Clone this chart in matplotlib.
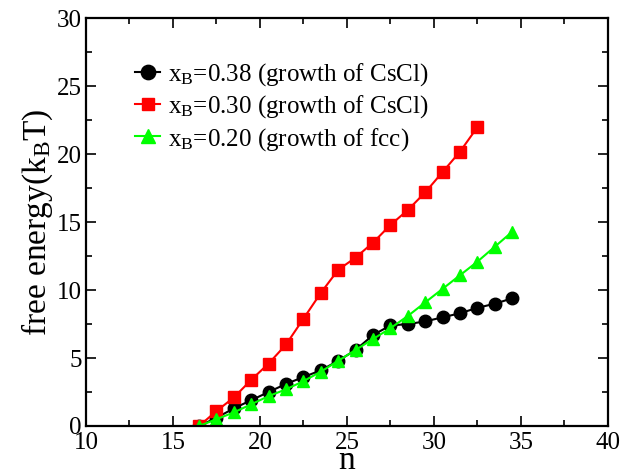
import numpy as np
import matplotlib
matplotlib.use("Agg")
import matplotlib.pyplot as plt
from matplotlib.ticker import MultipleLocator

plt.rcParams['font.family'] = ['Liberation Serif', 'DejaVu Serif']
plt.rcParams['mathtext.fontset'] = 'custom'
plt.rcParams['mathtext.rm'] = 'Liberation Serif'
plt.rcParams['mathtext.it'] = 'Liberation Serif:italic'

# cluster size n and free energy barriers (kT)
n_038 = [16.5, 17.5, 18.5, 19.5, 20.5, 21.5, 22.5, 23.5, 24.5, 25.5,
         26.5, 27.5, 28.5, 29.5, 30.5, 31.5, 32.5, 33.5, 34.5]
g_038 = [0.0, 0.6, 1.3, 1.9, 2.5, 3.1, 3.6, 4.1, 4.8, 5.6,
         6.7, 7.4, 7.5, 7.7, 8.0, 8.3, 8.7, 9.0, 9.4]

n_030 = [16.5, 17.5, 18.5, 19.5, 20.5, 21.5, 22.5, 23.5, 24.5, 25.5,
         26.5, 27.5, 28.5, 29.5, 30.5, 31.5, 32.5]
g_030 = [0.0, 1.1, 2.1, 3.4, 4.6, 6.0, 7.9, 9.8, 11.5, 12.4,
         13.5, 14.8, 15.9, 17.2, 18.7, 20.2, 22.0]

n_020 = [16.5, 17.5, 18.5, 19.5, 20.5, 21.5, 22.5, 23.5, 24.5, 25.5,
         26.5, 27.5, 28.5, 29.5, 30.5, 31.5, 32.5, 33.5, 34.5]
g_020 = [0.0, 0.5, 1.0, 1.6, 2.2, 2.7, 3.3, 4.0, 4.8, 5.6,
         6.4, 7.2, 8.1, 9.1, 10.1, 11.1, 12.1, 13.2, 14.3]

labels = [r'x$_\mathrm{B}$=0.38 (growth of CsCl)',
          r'x$_\mathrm{B}$=0.30 (growth of CsCl)',
          r'x$_\mathrm{B}$=0.20 (growth of fcc)']

fig = plt.figure(figsize=(6.35, 4.69), dpi=100)
ax = fig.add_axes([0.1354, 0.0917, 0.822, 0.869])

ax.plot(n_038, g_038, '-o', color='black', lw=1.5, ms=9, label=labels[0])
ax.plot(n_030, g_030, '-s', color='#ff0000', lw=1.5, ms=8, label=labels[1])
ax.plot(n_020, g_020, '-^', color='#00ff00', lw=1.5, ms=9, label=labels[2])

ax.set_xlim(10, 40)
ax.set_ylim(0, 30)
ax.xaxis.set_major_locator(MultipleLocator(5))
ax.xaxis.set_minor_locator(MultipleLocator(2.5))
ax.yaxis.set_major_locator(MultipleLocator(5))
ax.yaxis.set_minor_locator(MultipleLocator(2.5))
ax.tick_params(which='both', direction='in', top=True, right=True, width=1.2,
               labelsize=18)
ax.tick_params(which='major', length=7)
ax.tick_params(axis='x', which='major', pad=4)
ax.tick_params(axis='y', which='major', pad=3)
ax.tick_params(which='minor', length=4)
for s in ax.spines.values():
    s.set_linewidth(1.6)

ax.set_xlabel('n', fontsize=24, labelpad=-6)
ax.set_ylabel(r'free energy(k$_\mathrm{B}$T)', fontsize=24, labelpad=1)

ax.legend(loc='upper left', bbox_to_anchor=(0.075, 0.92), frameon=False,
          fontsize=18, handlelength=1.0, handletextpad=0.3, labelspacing=0.22,
          borderaxespad=0, markerscale=1.15)

fig.savefig('out.png', dpi=100)
